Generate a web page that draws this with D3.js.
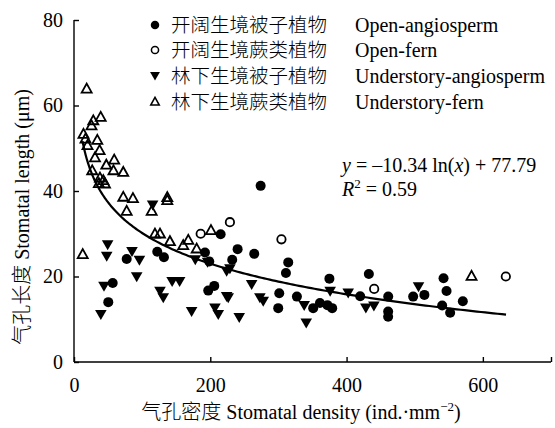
<!DOCTYPE html>
<html>
<head>
<meta charset="utf-8">
<script src="https://cdn.jsdelivr.net/npm/d3@7"></script>
<style>
  body { margin: 0; background: #fff; }
  svg text { font-family: "Liberation Serif", "Times New Roman", serif; fill: #000; }
  .cjk { font-family: "Noto Sans CJK SC", sans-serif; font-weight: 300; }
</style>
</head>
<body>
<svg id="chart" width="555" height="428" font-family="Liberation Serif, serif"></svg>
<script>
// [density, length] pairs
const openAngiosperm = [
  [273.9, 41.2], [215.2, 29.9], [192.2, 25.6], [198.5, 23.5], [240.1, 26.4], [232.2, 23.9],
  [264.5, 25.3], [314.4, 23.3], [311, 20.8], [205.8, 17.8], [197, 16.7], [301.2, 16.1],
  [299.7, 12.6], [327.1, 15.3], [374.8, 19.5], [432.7, 20.6], [420, 15.4], [461.1, 15.3],
  [461, 11.8], [461, 10.6], [497.7, 15.3], [514.2, 15.7], [542.3, 19.6], [546.7, 16.6],
  [540.3, 13.2], [552, 11.5], [570.6, 14.2], [351, 12.6], [360.9, 13.8], [371.9, 13.3],
  [378.9, 12.6], [77.3, 24.1], [122.2, 25.8], [132, 24.5], [56.8, 18.5], [50.3, 14.0]
]
const openFern = [[228.8, 32.7], [185.9, 30.0], [304.4, 28.7], [440.5, 17.1], [633.7, 20.0]]
const understoryAngiosperm = [
  [49.4, 27.4], [48, 24.7], [96, 23.8], [92, 19.9], [44, 17.7], [39.4, 11.1], [126.2, 16.5],
  [131, 15.0], [144, 18.8], [155, 18.8], [115.4, 36.7], [85.1, 25.8], [172.6, 11.8], [178, 23.9],
  [196, 23.3], [206.8, 12.6], [211.7, 11.1], [224, 15.3], [226.3, 15.0], [242.5, 10.4],
  [224, 21.2], [228.8, 21.8], [260.7, 18.1], [272.8, 15.0], [277.7, 14.2], [337.8, 13.2],
  [340.8, 9.1], [375.9, 16.5], [402.4, 16.1], [428.3, 12.6], [440.1, 13.1], [505.6, 17.6]
]
const understoryFern = [
  [18.6, 64.0], [39.2, 57.4], [28.3, 56.6], [25.7, 55.4], [13.9, 53.4], [16.9, 52.3], [34.2, 52.0],
  [19.8, 50.8], [37.6, 49.6], [30.8, 47.9], [59.0, 47.4], [47.4, 46.2], [57.9, 44.9], [72.3, 44.5],
  [26.7, 44.9], [38.1, 43.2], [43.0, 42.6], [36.5, 41.9], [45.5, 41.8], [72.3, 38.7], [86.5, 38.4],
  [77.3, 35.4], [114, 35.4], [136.9, 38.6], [136.9, 37.9], [118.8, 30.1], [126.2, 30.1],
  [140.8, 28.3], [12.8, 25.3], [167.7, 28.6], [160.3, 27.4], [180, 26.6], [201, 30.9], [583.4, 20.2]
]
const seriesNames = [
  ['开阔生境被子植物', 'Open-angiosperm'],
  ['开阔生境蕨类植物', 'Open-fern'],
  ['林下生境被子植物', 'Understory-angiosperm'],
  ['林下生境蕨类植物', 'Understory-fern']
]
const xTicks = [0, 200, 400, 600, 700]
const yTicks = [0, 20, 40, 60, 80]
// fitted curve y = a ln(x) + b
const fitA = -10.34
const fitB = 77.79
const fitRange = [12.5, 634]

const serif = '"Liberation Serif", "Times New Roman", serif'
const svg = d3.select('#chart')
const x = d3.scaleLinear().domain([0, 700]).range([74, 551])
const y = d3.scaleLinear().domain([0, 80]).range([362, 20])

const xAxis = svg.append('g')
  .attr('transform', `translate(0,${y(0)})`)
  .call(d3.axisBottom(x).tickValues(xTicks).tickSize(-5).tickPadding(16)
    .tickFormat(d => d === 700 ? '' : d))
const yAxis = svg.append('g')
  .attr('transform', `translate(${x(0)},0)`)
  .call(d3.axisLeft(y).tickValues(yTicks).tickSize(-5).tickPadding(11))
svg.selectAll('g').attr('font-family', serif).attr('font-size', 20)
svg.selectAll('.domain, .tick line').attr('stroke', '#000').attr('stroke-width', 1.4)
svg.selectAll('.tick text').style('font-size', '20px').style('font-family', serif)
xAxis.select('.domain').attr('d', `M${x(0)},0H${x(700)}`)
yAxis.select('.domain').attr('d', `M0,${y(0)}V${y(80)}`)

// marker shapes
const shapes = [
  (g, s) => g.append('circle').attr('r', 5 * s).attr('fill', '#000'),
  (g, s) => g.append('circle').attr('r', 4.2 * s).attr('fill', '#fff').attr('stroke', '#000').attr('stroke-width', 1.8 * s),
  (g, s) => g.append('path').attr('d', `M${-5.8 * s},${-4.6 * s}L${5.8 * s},${-4.6 * s}L0,${5.4 * s}Z`).attr('fill', '#000'),
  (g, s) => g.append('path').attr('d', `M${-5 * s},${4.2 * s}L${5 * s},${4.2 * s}L0,${-4.8 * s}Z`)
    .attr('fill', 'none').attr('stroke', '#000').attr('stroke-width', 1.8 * s).attr('stroke-linejoin', 'miter')
]

const allSeries = [openAngiosperm, openFern, understoryAngiosperm, understoryFern]
const drawOrder = [3, 1, 2, 0]
drawOrder.forEach(i => {
  svg.append('g').selectAll('g').data(allSeries[i]).join('g')
    .attr('transform', d => `translate(${x(d[0])},${y(d[1])})`)
    .each(function () { shapes[i](d3.select(this), 1) })
})

// fit line
const fitPts = d3.range(0, 201).map(k => {
  const xv = fitRange[0] + (fitRange[1] - fitRange[0]) * Math.pow(k / 200, 2)
  return [xv, fitA * Math.log(xv) + fitB]
})
svg.append('path')
  .datum(fitPts)
  .attr('d', d3.line().x(d => x(d[0])).y(d => y(d[1])))
  .attr('fill', 'none').attr('stroke', '#000').attr('stroke-width', 2.2)

// equation
const eq = svg.append('text').attr('x', 342).attr('y', 172).style('font-size', '20px')
eq.append('tspan').style('font-style', 'italic').text('y')
eq.append('tspan').text(' = –10.34 ln(')
eq.append('tspan').style('font-style', 'italic').text('x')
eq.append('tspan').text(') + 77.79')
const r2 = svg.append('text').attr('x', 342).attr('y', 196).style('font-size', '20px')
r2.append('tspan').style('font-style', 'italic').text('R')
r2.append('tspan').attr('dy', -8).style('font-size', '13px').text('2')
r2.append('tspan').attr('dy', 8).text(' = 0.59')

// legend
const legendRows = [25, 50, 76, 101.5]
seriesNames.forEach((n, i) => {
  const g = svg.append('g').attr('transform', `translate(155,${legendRows[i]})`)
  shapes[i](g, 0.85)
  g.append('text').attr('class', 'cjk').attr('x', 16).attr('y', 7).style('font-size', '19.5px').text(n[0])
  g.append('text').attr('x', 200).attr('y', 7).style('font-size', '20px').style('font-family', serif).text(n[1])
})

// axis titles
const xt = svg.append('text').attr('x', 301).attr('y', 419).attr('text-anchor', 'middle').style('font-size', '20px')
xt.append('tspan').attr('class', 'cjk').text('气孔密度')
xt.append('tspan').text(' Stomatal density (ind.·mm')
xt.append('tspan').attr('dy', -8).style('font-size', '13px').text('−2')
xt.append('tspan').attr('dy', 8).text(')')

const yt = svg.append('text').attr('transform', 'translate(29,217) rotate(-90)').attr('text-anchor', 'middle').style('font-size', '20px')
yt.append('tspan').attr('class', 'cjk').text('气孔长度')
yt.append('tspan').text(' Stomatal length (μm)')
</script>
</body>
</html>
